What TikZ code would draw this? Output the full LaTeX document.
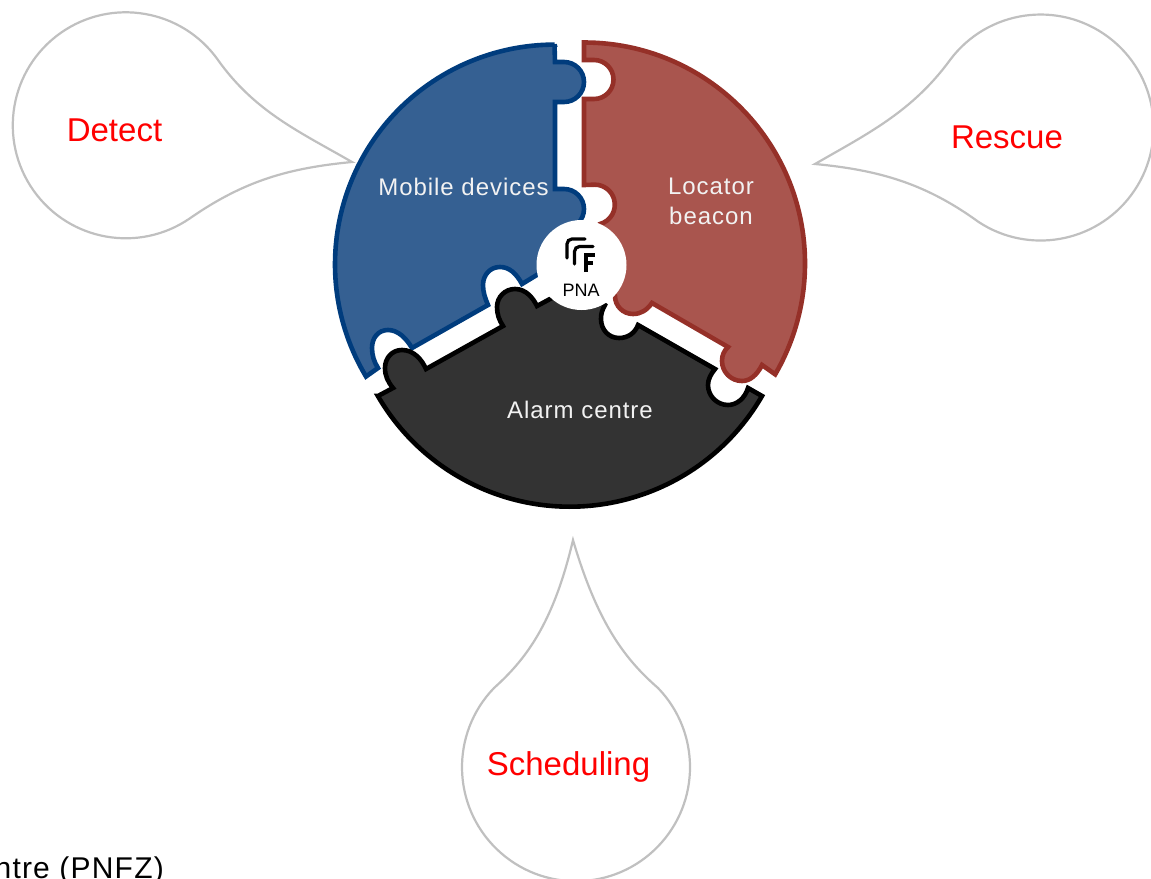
\documentclass[tikz,border=0pt]{standalone}
\usepackage{fontspec}
\setmainfont{Liberation Sans}
\newfontfamily\spaced[LetterSpace=4]{Liberation Sans}
\definecolor{bubble}{HTML}{C0C0C0}
\definecolor{bluefill}{HTML}{356092}
\definecolor{blueline}{HTML}{003C7D}
\definecolor{redfill}{HTML}{A9554E}
\definecolor{redline}{HTML}{953028}
\definecolor{darkfill}{HTML}{333333}
\tikzset{
  bubbleshape/.style={draw=bubble,line width=2.2pt,fill=white},
  piece/.style={line width=4.6pt,line join=miter,miter limit=4},
  redlabel/.style={text=red,inner sep=0pt,font=\fontsize{33}{36}\selectfont},
  whitelabel/.style={text=white!95!black,inner sep=0pt,align=center,font=\spaced\fontsize{24}{30}\selectfont},
  logostroke/.style={draw=black,line width=3.2pt,rounded corners=5pt,line cap=round},
  logof/.style={draw=black,line width=4.6pt}
}
\begin{document}
\begin{tikzpicture}[x=1pt,y=-1pt]
\useasboundingbox (0,0) rectangle (1151,878);
\clip (0,0) rectangle (1151,878);
% bubbles
\draw[bubbleshape] (352,162) .. controls (300,132) and (255,112) .. (218,60)
  arc[start angle=-35.3,end angle=-304.5,radius=113]
  .. controls (245,180) and (290,168) .. cycle;
\draw[bubbleshape] (815,164) .. controls (867,134) and (912,112) .. (950,60)
  arc[start angle=-143.3,end angle=123.4,radius=113]
  .. controls (925,183) and (878,170) .. cycle;
\draw[bubbleshape] (573,540) .. controls (553,625) and (525,660) .. (494,688)
  arc[start angle=-136,end angle=-404,radius=114]
  .. controls (626,660) and (598,625) .. cycle;
% puzzle pieces
\draw[piece,draw=blueline,fill=bluefill]
  (554.5,44.5) -- (555,62) -- (564,62)
  arc[start angle=-90,end angle=90,radius=20] -- (555,102) -- (555,189) -- (564,189)
  arc[start angle=-90,end angle=45,radius=20] -- (545,270) -- (522,284)
  .. controls (516,273) and (509,267) .. (500,267)
  .. controls (490,267) and (483,275) .. (483,285)
  .. controls (483,292) and (485,298) .. (488,305) -- (412,348)
  .. controls (406,338) and (398,330) .. (388,330)
  .. controls (378,330) and (372,338) .. (372,348)
  .. controls (372,355) and (374,362) .. (378,368) -- (366,376.5)
  arc[start angle=149.2,end angle=270,radius=219.5] -- cycle;
\draw[piece,draw=redline,fill=redfill]
  (584,42.5) arc[start angle=-90,end angle=30.1,radius=221] -- (762,365)
  .. controls (757,375) and (750,381) .. (742,381)
  .. controls (731,381) and (722,372) .. (722,361)
  .. controls (722,355) and (724,351) .. (728,347) -- (652,303)
  .. controls (647,310) and (641,314) .. (633,314)
  .. controls (623,314) and (615,306) .. (615,296) -- (605,280) -- (600,224)
  arc[start angle=75,end angle=-90,radius=20] -- (584,185) -- (584,99) -- (594,99)
  arc[start angle=90,end angle=-90,radius=19.5] -- (584,60) -- cycle;
\draw[piece,draw=black,fill=darkfill]
  (378,396) -- (393,388)
  .. controls (388,382) and (385,376) .. (385,368)
  .. controls (385,358) and (392,350) .. (402,350)
  .. controls (414,350) and (422,360) .. (426,369) -- (503,326)
  .. controls (499,320) and (497,314) .. (497,307)
  .. controls (497,297) and (505,289) .. (515,289)
  .. controls (526,289) and (533,298) .. (537,306)
  -- (550,299) -- (580,285) -- (605,305)
  .. controls (602,310) and (601,314) .. (601,319)
  .. controls (601,329) and (608,338) .. (619,338)
  .. controls (628,338) and (635,333) .. (638,325) -- (715,369)
  .. controls (711,374) and (708,379) .. (708,385)
  .. controls (708,396) and (717,405) .. (728,405)
  .. controls (737,405) and (745,398) .. (748,388) -- (762,396)
  arc[start angle=30.1,end angle=149.9,radius=222] -- cycle;
% hub and logo
\fill[white] (581.5,265) circle[radius=45];
\draw[logostroke] (567,258) -- (567,239) -- (585,239);
\draw[logostroke] (574.5,264) -- (574.5,246.5) -- (593,246.5);
\draw[logof] (586,272) -- (586,255) -- (594.5,255);
\draw[logof] (586,263) -- (593,263);
% labels
\node[inner sep=0pt,font=\fontsize{18}{20}\selectfont] (pna) at (581,290) {PNA};
\node[whitelabel] (mobile) at (463.5,187) {Mobile devices};
\node[whitelabel] (locator) at (711,201) {Locator\\beacon};
\node[whitelabel] (alarm) at (580,410) {Alarm centre};
\node[redlabel] (detect) at (114.5,130.5) {Detect};
\node[redlabel] (rescue) at (1007,137.5) {Rescue};
\node[redlabel,anchor=base] (scheduling) at (568.5,775) {Scheduling};
\node[anchor=base east,inner sep=0pt,font=\spaced\fontsize{30}{34}\selectfont] (note) at (164,878) {ntre (PNFZ)};
\end{tikzpicture}
\end{document}
